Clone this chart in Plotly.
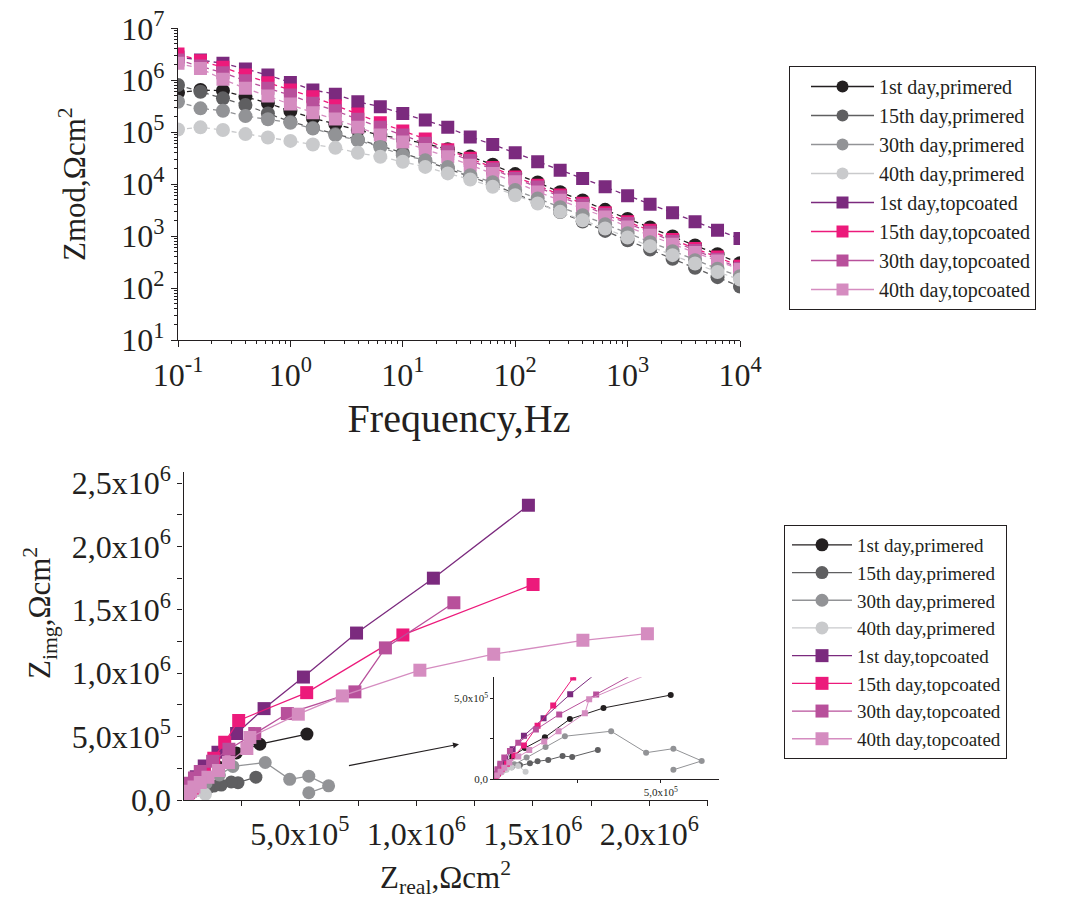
import plotly.graph_objects as go

# ---------------- data ----------------
series_names = [
    "1st day,primered", "15th day,primered", "30th day,primered", "40th day,primered",
    "1st day,topcoated", "15th day,topcoated", "30th day,topcoated", "40th day,topcoated",
]
series_colors = [
    "#231f20", "#5f5f61", "#929396", "#c9cacc",
    "#7b2a7e", "#ec1a7b", "#b8509b", "#d58cc0",
]
series_symbols = ["circle"] * 4 + ["square"] * 4

# Bode plot: frequency (Hz) and impedance modulus (Ohm cm^2)
freq = [0.1, 0.1585, 0.2512, 0.3981, 0.631, 1.0, 1.585, 2.512, 3.981, 6.31,
        10.0, 15.85, 25.12, 39.81, 63.1, 100.0, 158.5, 251.2, 398.1, 631.0,
        1000.0, 1585.0, 2512.0, 3981.0, 6310.0, 10000.0]

zmod_1st_primered = [5.74e5, 6.47e5, 6.28e5, 4.81e5, 3.64e5, 2.55e5, 1.87e5, 1.43e5, 1.10e5, 8.8e4,
                     7.4e4, 6.0e4, 4.72e4, 3.42e4, 2.36e4, 1.56e4, 1.08e4, 7.0e3, 4.85e3, 3.2e3,
                     2.14e3, 1.47e3, 9.8e2, 6.6e2, 4.48e2, 3.0e2]
zmod_15th_primered = [8.1e5, 6.0e5, 4.48e5, 3.33e5, 2.30e5, 1.59e5, 1.22e5, 9.2e4, 7.2e4, 5.5e4,
                      4.0e4, 2.8e4, 2.0e4, 1.42e4, 9.8e3, 6.6e3, 4.4e3, 2.9e3, 1.9e3, 1.26e3,
                      8.3e2, 5.5e2, 3.65e2, 2.45e2, 1.62e2, 1.07e2]
zmod_30th_primered = [3.85e5, 2.88e5, 2.58e5, 2.04e5, 1.77e5, 1.52e5, 1.18e5, 8.8e4, 7.0e4, 5.2e4,
                      3.62e4, 2.90e4, 2.15e4, 1.49e4, 1.09e4, 7.7e3, 5.3e3, 3.61e3, 2.53e3, 1.70e3,
                      1.14e3, 7.6e2, 5.1e2, 3.43e2, 2.36e2, 1.69e2]
zmod_40th_primered = [1.13e5, 1.24e5, 1.10e5, 9.2e4, 7.9e4, 6.8e4, 5.8e4, 5.0e4, 4.0e4, 3.36e4,
                      2.69e4, 2.15e4, 1.61e4, 1.23e4, 8.9e3, 6.1e3, 4.25e3, 2.93e3, 2.02e3, 1.40e3,
                      9.4e2, 6.4e2, 4.3e2, 2.97e2, 2.04e2, 1.46e2]
zmod_1st_topcoated = [2.80e6, 2.45e6, 2.12e6, 1.64e6, 1.26e6, 9.1e5, 6.5e5, 5.4e5, 3.85e5, 3.09e5,
                      2.30e5, 1.71e5, 1.24e5, 8.1e4, 5.8e4, 4.0e4, 2.69e4, 1.86e4, 1.29e4, 8.9e3,
                      5.96e3, 4.12e3, 2.80e3, 1.88e3, 1.30e3, 9.0e2]
zmod_15th_topcoated = [3.2e6, 2.38e6, 1.77e6, 1.26e6, 8.96e5, 6.47e5, 4.81e5, 3.23e5, 2.23e5, 1.52e5,
                       1.06e5, 7.4e4, 4.6e4, 3.15e4, 2.1e4, 1.38e4, 9.5e3, 6.2e3, 4.27e3, 2.8e3,
                       1.88e3, 1.29e3, 8.6e2, 5.8e2, 3.94e2, 2.64e2]
zmod_30th_topcoated = [2.45e6, 1.88e6, 1.40e6, 9.8e5, 6.98e5, 5.19e5, 3.59e5, 2.58e5, 1.77e5, 1.24e5,
                       8.8e4, 6.1e4, 4.19e4, 2.85e4, 1.95e4, 1.28e4, 8.8e3, 5.7e3, 3.95e3, 2.6e3,
                       1.74e3, 1.19e3, 7.9e2, 5.3e2, 3.6e2, 2.4e2]
zmod_40th_topcoated = [2.12e6, 1.69e6, 1.04e6, 6.98e5, 4.96e5, 3.48e5, 2.36e5, 1.79e5, 1.24e5, 8.8e4,
                       6.5e4, 4.67e4, 3.36e4, 2.32e4, 1.61e4, 1.11e4, 7.1e3, 4.92e3, 3.40e3, 2.34e3,
                       1.50e3, 1.04e3, 7.0e2, 4.83e2, 3.33e2, 2.27e2]

# Nyquist plot: real and imaginary impedance (Ohm cm^2), lowest frequency first
zre_1st_primered = [5.30e5, 3.28e5, 2.27e5, 1.52e5, 9.2e4, 5.4e4, 3.2e4, 1.8e4, 1.0e4, 5e3]
zim_1st_primered = [5.20e5, 4.40e5, 3.71e5, 2.58e5, 1.92e5, 1.40e5, 1.0e5, 6.8e4, 4.2e4, 2.2e4]
zre_15th_primered = [3.11e5, 2.34e5, 2.05e5, 1.62e5, 1.30e5, 1.07e5, 7.7e4, 5.2e4, 3.2e4, 1.8e4, 8e3, 3e3]
zim_15th_primered = [1.80e5, 1.37e5, 1.42e5, 1.18e5, 1.10e5, 9.8e4, 8.6e4, 7.3e4, 5.9e4, 4.3e4, 2.6e4, 1.2e4]
zre_30th_primered = [5.38e5, 6.23e5, 5.38e5, 4.56e5, 3.51e5, 2.12e5, 1.54e5, 9.7e4, 6.0e4, 3.6e4, 2.0e4, 1.0e4, 4e3]
zim_30th_primered = [5.7e4, 1.12e5, 1.88e5, 1.63e5, 2.96e5, 2.65e5, 1.98e5, 1.33e5, 9.2e4, 6.2e4, 4.0e4, 2.3e4, 1.0e4]
zre_40th_primered = [9.4e4, 7.2e4, 5.2e4, 3.7e4, 2.3e4, 1.2e4, 5e3, 1.5e3]
zim_40th_primered = [4.5e4, 8.1e4, 7.2e4, 5.8e4, 4.3e4, 2.8e4, 1.6e4, 6e3]
zre_1st_topcoated = [1.481e6, 1.073e6, 7.43e5, 5.15e5, 3.46e5, 2.28e5, 1.48e5, 8.9e4, 5.5e4, 3.3e4, 1.9e4, 1.0e4, 5.0e3, 2.0e3]
zim_1st_topcoated = [2.325e6, 1.750e6, 1.317e6, 9.70e5, 7.21e5, 5.25e5, 3.76e5, 2.68e5, 1.84e5, 1.24e5, 8.3e4, 5.2e4, 3.0e4, 1.4e4]
zre_15th_topcoated = [1.501e6, 9.42e5, 5.29e5, 2.37e5, 1.77e5, 1.30e5, 8.9e4, 6.0e4, 3.8e4, 2.2e4, 1.1e4, 4e3]
zim_15th_topcoated = [1.701e6, 1.302e6, 8.47e5, 6.28e5, 4.55e5, 3.30e5, 2.08e5, 1.45e5, 9.5e4, 6.0e4, 3.4e4, 1.5e4]
zre_30th_topcoated = [1.161e6, 8.67e5, 7.36e5, 4.46e5, 3.06e5, 1.95e5, 1.25e5, 7.2e4, 4.7e4, 3.0e4, 1.8e4, 9e3, 3e3]
zim_30th_topcoated = [1.556e6, 1.20e6, 8.53e5, 6.82e5, 5.24e5, 4.0e5, 3.06e5, 2.25e5, 1.73e5, 1.33e5, 9.5e4, 6e4, 3e4]
zre_40th_topcoated = [1.992e6, 1.715e6, 1.332e6, 1.015e6, 6.82e5, 4.93e5, 2.85e5, 2.72e5, 1.93e5, 1.50e5, 1.05e5, 7.2e4, 4.5e4, 3.0e4, 1.9e4, 8e3]
zim_40th_topcoated = [1.312e6, 1.26e6, 1.150e6, 1.024e6, 8.21e5, 6.77e5, 4.94e5, 4.07e5, 2.96e5, 2.33e5, 1.79e5, 1.39e5, 1.02e5, 7.0e4, 4.5e4, 2.2e4]

bode_data = [zmod_1st_primered, zmod_15th_primered, zmod_30th_primered, zmod_40th_primered,
             zmod_1st_topcoated, zmod_15th_topcoated, zmod_30th_topcoated, zmod_40th_topcoated]
nyq_re = [zre_1st_primered, zre_15th_primered, zre_30th_primered, zre_40th_primered,
          zre_1st_topcoated, zre_15th_topcoated, zre_30th_topcoated, zre_40th_topcoated]
nyq_im = [zim_1st_primered, zim_15th_primered, zim_30th_primered, zim_40th_primered,
          zim_1st_topcoated, zim_15th_topcoated, zim_30th_topcoated, zim_40th_topcoated]

bode_tick_vals = [0.1, 1, 10, 100, 1000, 10000]
bode_tick_text = ["10<sup>-1</sup>", "10<sup>0</sup>", "10<sup>1</sup>", "10<sup>2</sup>",
                  "10<sup>3</sup>", "10<sup>4</sup>"]
zmod_tick_vals = [10, 100, 1e3, 1e4, 1e5, 1e6, 1e7]
zmod_tick_text = ["10<sup>1</sup>", "10<sup>2</sup>", "10<sup>3</sup>", "10<sup>4</sup>",
                  "10<sup>5</sup>", "10<sup>6</sup>", "10<sup>7</sup>"]
zre_tick_vals = [5e5, 1e6, 1.5e6, 2e6]
zre_tick_text = ["5,0x10<sup>5</sup>", "1,0x10<sup>6</sup>", "1,5x10<sup>6</sup>", "2,0x10<sup>6</sup>"]
zim_tick_vals = [0, 5e5, 1e6, 1.5e6, 2e6, 2.5e6]
zim_tick_text = ["0,0", "5,0x10<sup>5</sup>", "1,0x10<sup>6</sup>", "1,5x10<sup>6</sup>",
                 "2,0x10<sup>6</sup>", "2,5x10<sup>6</sup>"]

# ---------------- figure ----------------
W, H = 1074, 907
FONT = "Liberation Serif"
INK = "#231f20"


def px_x(p):
    return p / W


def px_y(p):
    return 1 - p / H


fig = go.Figure()

# Bode traces (dashed connectors); draw order keeps light circles on top
bode_order = [0, 1, 4, 5, 6, 7, 2, 3]
for i in bode_order:
    fig.add_trace(go.Scatter(
        x=freq, y=bode_data[i], xaxis="x", yaxis="y",
        mode="lines+markers", showlegend=False,
        line=dict(color=series_colors[i], width=1.3, dash="5px,4px"),
        marker=dict(symbol=series_symbols[i], color=series_colors[i],
                    size=14 if series_symbols[i] == "circle" else 13),
    ))

# legend entries for the Bode panel (solid keys)
for i, name in enumerate(series_names):
    fig.add_trace(go.Scatter(
        x=[None], y=[None], xaxis="x", yaxis="y", name=name,
        mode="lines+markers", legend="legend", legendrank=i + 1,
        line=dict(color=series_colors[i], width=1.3),
        marker=dict(symbol=series_symbols[i], color=series_colors[i], size=12),
    ))

# Nyquist main panel
for i, name in enumerate(series_names):
    fig.add_trace(go.Scatter(
        x=nyq_re[i], y=nyq_im[i], xaxis="x2", yaxis="y2", name=name,
        mode="lines+markers", legend="legend2", legendrank=i + 1,
        line=dict(color=series_colors[i], width=1.3),
        marker=dict(symbol=series_symbols[i], color=series_colors[i], size=13),
    ))

# Nyquist inset (zoom near the origin)
for i in range(8):
    fig.add_trace(go.Scatter(
        x=nyq_re[i], y=nyq_im[i], xaxis="x3", yaxis="y3", showlegend=False,
        mode="lines+markers",
        line=dict(color=series_colors[i], width=1),
        marker=dict(symbol=series_symbols[i], color=series_colors[i], size=6),
    ))

bode_minor_x = [m * 10 ** e for e in range(-1, 4) for m in range(2, 10)]
bode_minor_y = [m * 10 ** e for e in range(1, 7) for m in range(2, 10)]

axis_common = dict(showline=True, linecolor=INK, linewidth=1.2, ticks="outside",
                   tickcolor=INK, tickwidth=1.2, showgrid=False, zeroline=False,
                   tickmode="array", automargin=False)

fig.update_layout(
    width=W, height=H,
    margin=dict(l=0, r=0, t=0, b=0),
    paper_bgcolor="white", plot_bgcolor="rgba(0,0,0,0)",
    font=dict(family=FONT, color=INK),
    xaxis=dict(
        **axis_common, type="log", range=[-1, 4.0],
        domain=[px_x(178), px_x(740)], anchor="y",
        tickvals=bode_tick_vals, ticktext=bode_tick_text, ticklen=6,
        tickfont=dict(size=32, family=FONT, color=INK),
        minor=dict(ticks="outside", ticklen=3, tickcolor=INK, tickmode="array",
                   tickvals=bode_minor_x),
        title=dict(text="Frequency,Hz", font=dict(size=40, family=FONT, color=INK), standoff=12),
    ),
    yaxis=dict(
        **axis_common, type="log", range=[1, 7],
        domain=[px_y(340), px_y(28.3)], anchor="x",
        tickvals=zmod_tick_vals, ticktext=zmod_tick_text, ticklen=6,
        tickfont=dict(size=32, family=FONT, color=INK),
        minor=dict(ticks="outside", ticklen=3, tickcolor=INK, tickmode="array",
                   tickvals=bode_minor_y),
        title=dict(text="Zmod,Ωcm<sup>2</sup>", font=dict(size=31, family=FONT, color=INK), standoff=26),
    ),
    xaxis2=dict(
        **axis_common, range=[0, 2.25e6],
        domain=[px_x(183.5), px_x(707.5)], anchor="y2",
        tickvals=zre_tick_vals, ticktext=zre_tick_text, ticklen=5,
        tickfont=dict(size=32, family=FONT, color=INK),
        minor=dict(ticks="outside", ticklen=5, tickcolor=INK, tickmode="array",
                   tickvals=[2.5e5, 7.5e5, 1.25e6, 1.75e6, 2.25e6]),
        title=dict(text="Z<sub>real</sub>,Ωcm<sup>2</sup>", font=dict(size=31, family=FONT, color=INK), standoff=15),
    ),
    yaxis2=dict(
        **axis_common, range=[0, 2.59e6],
        domain=[px_y(800), px_y(471.7)], anchor="x2",
        tickvals=zim_tick_vals, ticktext=zim_tick_text, ticklen=5,
        tickfont=dict(size=32, family=FONT, color=INK),
        minor=dict(ticks="outside", ticklen=5, tickcolor=INK, tickmode="array",
                   tickvals=[2.5e5, 7.5e5, 1.25e6, 1.75e6, 2.25e6]),
    ),
    xaxis3=dict(
        **axis_common, range=[0, 6.75e5],
        domain=[px_x(494.3), px_x(719)], anchor="y3",
        tickvals=[5e5], ticktext=["5,0x10<sup>5</sup>"], ticklen=3,
        tickfont=dict(size=11, family=FONT, color=INK),
        minor=dict(ticks="outside", ticklen=3, tickcolor=INK, tickmode="array", tickvals=[2.5e5]),
    ),
    yaxis3=dict(
        **axis_common, range=[0, 6.3e5],
        domain=[px_y(779), px_y(677.3)], anchor="x3",
        tickvals=[0, 5e5], ticktext=["0,0", "5,0x10<sup>5</sup>"], ticklen=3,
        tickfont=dict(size=11, family=FONT, color=INK),
        minor=dict(ticks="outside", ticklen=3, tickcolor=INK, tickmode="array", tickvals=[2.5e5]),
    ),
    legend=dict(
        x=px_x(789), y=px_y(66), xanchor="left", yanchor="top",
        bordercolor=INK, borderwidth=1, bgcolor="white",
        font=dict(size=20, family=FONT, color=INK), itemwidth=63, indentation=16,
        tracegroupgap=0,
    ),
    legend2=dict(
        x=px_x(784), y=px_y(525), xanchor="left", yanchor="top",
        bordercolor=INK, borderwidth=1, bgcolor="white",
        font=dict(size=19, family=FONT, color=INK), itemwidth=60, indentation=2,
        tracegroupgap=0,
    ),
    annotations=[
        dict(
            x=1.183e6, y=4.40e5, xref="x2", yref="y2",
            ax=7.04e5, ay=2.69e5, axref="x2", ayref="y2",
            showarrow=True, arrowhead=2, arrowsize=1, arrowwidth=1.2, arrowcolor=INK, text="",
        ),
        # vertical title of the Nyquist panel
        dict(
            x=px_x(40), y=px_y(613), xref="paper", yref="paper",
            xanchor="center", yanchor="middle", textangle=-90, showarrow=False,
            text="Z<sub>img</sub>,Ωcm<sup>2</sup>",
            font=dict(size=31, family=FONT, color=INK),
        ),
    ],
)

fig.write_html("out.html")
